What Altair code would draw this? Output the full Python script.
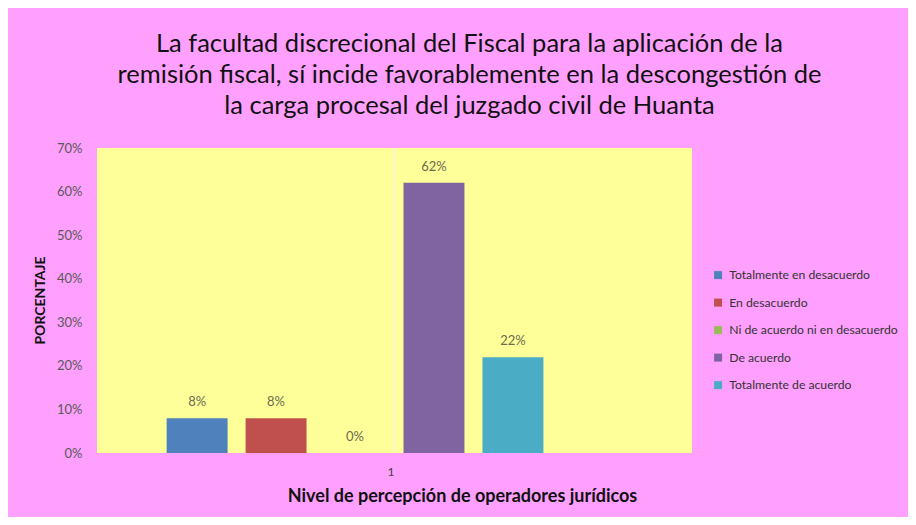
import altair as alt
import pandas as pd

series = ["Totalmente en desacuerdo", "En desacuerdo", "Ni de acuerdo ni en desacuerdo",
          "De acuerdo", "Totalmente de acuerdo"]
values = [0.08, 0.08, 0.00, 0.62, 0.22]
labels = ["8%", "8%", "0%", "62%", "22%"]
colors = ["#4F81BD", "#C0504D", "#9BBB59", "#8064A2", "#4BACC6"]
category = "1"
slots = series + [" "]  # Excel leaves an empty sixth slot in the group

df = pd.DataFrame({"grupo": [category] * len(series), "serie": series,
                   "valor": values, "etiqueta": labels})
df_rule = pd.DataFrame({"grupo": [category]})

FONT = "Lato"
PINK = "#FFA0FF"

x_enc = alt.X("grupo:N", scale=alt.Scale(paddingOuter=0.128, paddingInner=0),
              axis=alt.Axis(title="Nivel de percepción de operadores jurídicos", labelAngle=0,
                            labelFontSize=12, labelColor="#404040", labelPadding=18,
                            ticks=False, domain=False, titleFontSize=18, titleFontWeight="bold",
                            titleColor="#111111", titleX=365, titleY=43,
                            titleBaseline="middle", titleAnchor="start", titleAlign="center"))
xo_enc = alt.XOffset("serie:N", scale=alt.Scale(domain=slots, paddingInner=0.228, paddingOuter=0.114))
y_enc = alt.Y("valor:Q", scale=alt.Scale(domain=[0, 0.7]),
              axis=alt.Axis(format=".0%", values=[0, 0.1, 0.2, 0.3, 0.4, 0.5, 0.6, 0.7],
                            grid=False, ticks=False, domain=False, labelPadding=15,
                            labelFontSize=13, labelColor="#595959", title="PORCENTAJE",
                            titleFontSize=14, titleFontWeight="bold", titleColor="#111111",
                            titleX=-57, titleY=152, titleAngle=-90, titleBaseline="middle",
                            titleAlign="center"))

bars = alt.Chart(df).mark_bar().encode(
    x=x_enc, xOffset=xo_enc, y=y_enc,
    color=alt.Color("serie:N", scale=alt.Scale(domain=series, range=colors),
                    legend=alt.Legend(title=None, orient="none", legendX=615, legendY=121,
                                      symbolType="square", symbolSize=64, symbolStrokeWidth=0,
                                      labelFontSize=12.2, labelColor="#333333", labelLimit=300,
                                      labelOffset=5, rowPadding=14.5)),
)

text = alt.Chart(df).mark_text(baseline="bottom", dy=-9, fontSize=13, color="#6b6b50", font=FONT).encode(
    x=alt.X("grupo:N"), xOffset=alt.XOffset("serie:N"), y=alt.Y("valor:Q"), text="etiqueta:N"
)

rule = alt.Chart(df_rule).mark_rule(color="#F8F6E0", strokeWidth=1.5).encode(x=alt.X("grupo:N"))

chart = alt.layer(rule, bars, text).properties(
    width=595, height=305,
    title=alt.TitleParams(
        ["La facultad discrecional del Fiscal para la aplicación de la",
         "remisión fiscal, sí incide favorablemente en la descongestión de",
         "la carga procesal del juzgado civil de Huanta"],
        fontSize=25.5, font=FONT, fontWeight="normal", color="#111111", lineHeight=31,
        anchor="middle", dx=75, offset=23),
    autosize=alt.AutoSizeParams(type="none"),
    padding={"left": 89, "top": 140, "right": 216, "bottom": 64},
    background=PINK,
).configure(font=FONT).configure_view(fill="#FFFF99", strokeWidth=0)

chart.save("out.html", embed_options={"renderer": "svg", "actions": False})
